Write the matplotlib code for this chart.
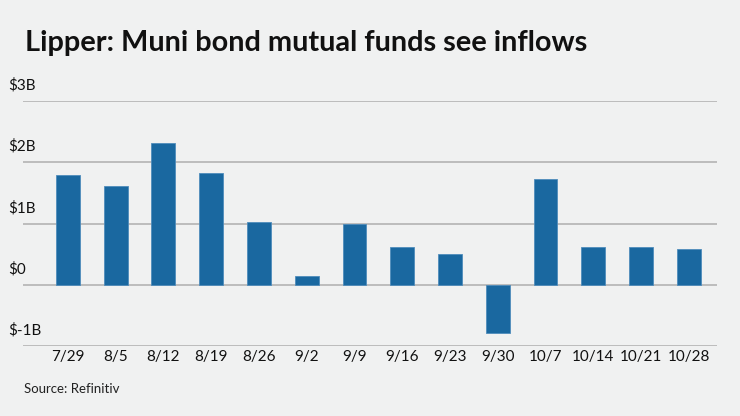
import matplotlib.pyplot as plt

weeks = ["7/29", "8/5", "8/12", "8/19", "8/26", "9/2", "9/9",
         "9/16", "9/23", "9/30", "10/7", "10/14", "10/21", "10/28"]
# weekly flows, $ billions
flows = [1.80, 1.61, 2.31, 1.83, 1.02, 0.14, 1.00,
         0.61, 0.50, -0.78, 1.72, 0.62, 0.61, 0.585]
yticks = [-1, 0, 1, 2, 3]
ylabels = ["$-1B", "$0", "$1B", "$2B", "$3B"]

bg = "#f0f1f1"
blue = "#1a68a0"

plt.rcParams["font.family"] = ["Lato", "DejaVu Sans"]

fig = plt.figure(figsize=(7.4, 4.16), dpi=100, facecolor=bg)
ax = fig.add_axes([23 / 740, 1 - 346 / 416, (717 - 23) / 740, 245 / 416])
ax.set_facecolor(bg)

x = list(range(len(weeks)))
ax.bar(x, flows, width=0.5, color=blue, edgecolor="#4f8cbb", linewidth=0.6, zorder=3)

for t, lab in zip(yticks, ylabels):
    ax.axhline(t, color="#bcbcbc", linewidth=1.4, zorder=1)
    ax.annotate(lab, xy=(0, t), xycoords=("axes fraction", "data"),
                xytext=(-11, 6), textcoords="offset points",
                fontsize=11, color="#111111", ha="left", va="bottom")

ax.set_xlim(-0.94, 13.59)
ax.set_ylim(-1, 3)
ax.set_xticks(x)
ax.set_xticklabels(weeks, fontsize=11, color="#111111")
ax.tick_params(axis="x", length=0, pad=3)
ax.set_yticks([])
for s in ax.spines.values():
    s.set_visible(False)

fig.text(25 / 740, 1 - 43 / 416, "Lipper: Muni bond mutual funds see inflows",
         fontsize=20.8, fontweight="bold", color="#111111", ha="left", va="center")
fig.text(24 / 740, 1 - 389 / 416, "Source: Refinitiv", fontsize=9.5,
         color="#222222", ha="left", va="center")

fig.savefig("out.png", dpi=100, facecolor=bg)
